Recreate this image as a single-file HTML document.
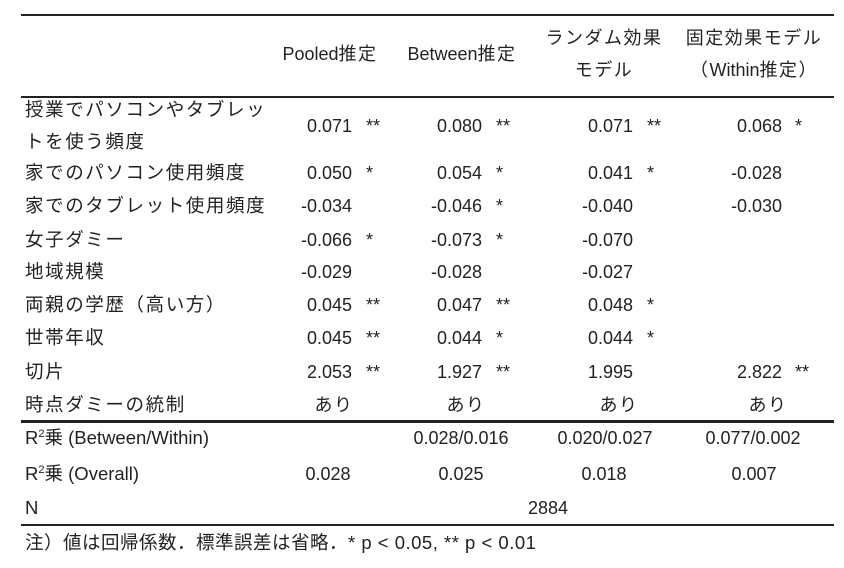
<!DOCTYPE html>
<html><head><meta charset="utf-8"><style>
body{margin:0;background:#fff;}
#c{position:relative;width:844px;height:568px;font-family:"Liberation Sans","Noto Sans CJK JP",sans-serif;font-size:18px;color:#222;}
#c div{position:absolute;white-space:nowrap;line-height:20px;}
.l{left:25px;letter-spacing:1.6px;font-size:18.5px}
.r{text-align:right;width:80px}
.m{text-align:center;width:160px}
.j{letter-spacing:1.5px}
.hr{background:#222;left:21px;width:813px;height:2px}
</style></head><body><div id="c">
<div class="hr" style="top:14px"></div>
<div class="hr" style="top:96px"></div>
<div class="hr" style="top:420px;height:3px"></div>
<div class="hr" style="top:524px"></div>

<div class="m" style="left:250px;top:44px">Pooled<span class="j">推定</span></div>
<div class="m" style="left:382px;top:44px">Between<span class="j">推定</span></div>
<div class="m j" style="left:524px;top:28px">ランダム効果</div>
<div class="m j" style="left:524px;top:60px">モデル</div>
<div class="m j" style="left:674px;top:28px">固定効果モデル</div>
<div class="m" style="left:674px;top:60px"><span class="j">（</span>Within<span class="j">推定）</span></div>

<div class="l" style="top:100px">授業でパソコンやタブレッ</div>
<div class="l" style="top:132px">トを使う頻度</div>
<div class="l" style="top:163px">家でのパソコン使用頻度</div>
<div class="l" style="top:196px">家でのタブレット使用頻度</div>
<div class="l" style="top:230px">女子ダミー</div>
<div class="l" style="top:262px">地域規模</div>
<div class="l" style="top:295px">両親の学歴（高い方）</div>
<div class="l" style="top:328px">世帯年収</div>
<div class="l" style="top:362px">切片</div>
<div class="l" style="top:395px">時点ダミーの統制</div>
<div class="l" style="top:428px;letter-spacing:0">R<sup style="font-size:11px;line-height:0">2</sup>乗 (Between/Within)</div>
<div class="l" style="top:464px;letter-spacing:0">R<sup style="font-size:11px;line-height:0">2</sup>乗 (Overall)</div>
<div class="l" style="top:498px">N</div>
<div class="l" style="top:533px;letter-spacing:0.5px">注）値は回帰係数．標準誤差は省略．* p &lt; 0.05, ** p &lt; 0.01</div>

<!-- col1 -->
<div class="r" style="left:272px;top:116px">0.071</div><div style="left:366px;top:116px">**</div>
<div class="r" style="left:272px;top:163px">0.050</div><div style="left:366px;top:163px">*</div>
<div class="r" style="left:272px;top:196px">-0.034</div>
<div class="r" style="left:272px;top:230px">-0.066</div><div style="left:366px;top:230px">*</div>
<div class="r" style="left:272px;top:262px">-0.029</div>
<div class="r" style="left:272px;top:295px">0.045</div><div style="left:366px;top:295px">**</div>
<div class="r" style="left:272px;top:328px">0.045</div><div style="left:366px;top:328px">**</div>
<div class="r" style="left:272px;top:362px">2.053</div><div style="left:366px;top:362px">**</div>
<!-- col2 -->
<div class="r" style="left:402px;top:116px">0.080</div><div style="left:496px;top:116px">**</div>
<div class="r" style="left:402px;top:163px">0.054</div><div style="left:496px;top:163px">*</div>
<div class="r" style="left:402px;top:196px">-0.046</div><div style="left:496px;top:196px">*</div>
<div class="r" style="left:402px;top:230px">-0.073</div><div style="left:496px;top:230px">*</div>
<div class="r" style="left:402px;top:262px">-0.028</div>
<div class="r" style="left:402px;top:295px">0.047</div><div style="left:496px;top:295px">**</div>
<div class="r" style="left:402px;top:328px">0.044</div><div style="left:496px;top:328px">*</div>
<div class="r" style="left:402px;top:362px">1.927</div><div style="left:496px;top:362px">**</div>
<!-- col3 -->
<div class="r" style="left:553px;top:116px">0.071</div><div style="left:647px;top:116px">**</div>
<div class="r" style="left:553px;top:163px">0.041</div><div style="left:647px;top:163px">*</div>
<div class="r" style="left:553px;top:196px">-0.040</div>
<div class="r" style="left:553px;top:230px">-0.070</div>
<div class="r" style="left:553px;top:262px">-0.027</div>
<div class="r" style="left:553px;top:295px">0.048</div><div style="left:647px;top:295px">*</div>
<div class="r" style="left:553px;top:328px">0.044</div><div style="left:647px;top:328px">*</div>
<div class="r" style="left:553px;top:362px">1.995</div>
<!-- col4 -->
<div class="r" style="left:702px;top:116px">0.068</div><div style="left:795px;top:116px">*</div>
<div class="r" style="left:702px;top:163px">-0.028</div>
<div class="r" style="left:702px;top:196px">-0.030</div>
<div class="r" style="left:702px;top:362px">2.822</div><div style="left:795px;top:362px">**</div>

<div class="m j" style="left:254px;top:395px">あり</div>
<div class="m j" style="left:386px;top:395px">あり</div>
<div class="m j" style="left:539px;top:395px">あり</div>
<div class="m j" style="left:688px;top:395px">あり</div>

<div class="m" style="left:381px;top:428px">0.028/0.016</div>
<div class="m" style="left:525px;top:428px">0.020/0.027</div>
<div class="m" style="left:673px;top:428px">0.077/0.002</div>
<div class="m" style="left:248px;top:464px">0.028</div>
<div class="m" style="left:381px;top:464px">0.025</div>
<div class="m" style="left:524px;top:464px">0.018</div>
<div class="m" style="left:674px;top:464px">0.007</div>
<div class="m" style="left:468px;top:498px">2884</div>
</div></body></html>
